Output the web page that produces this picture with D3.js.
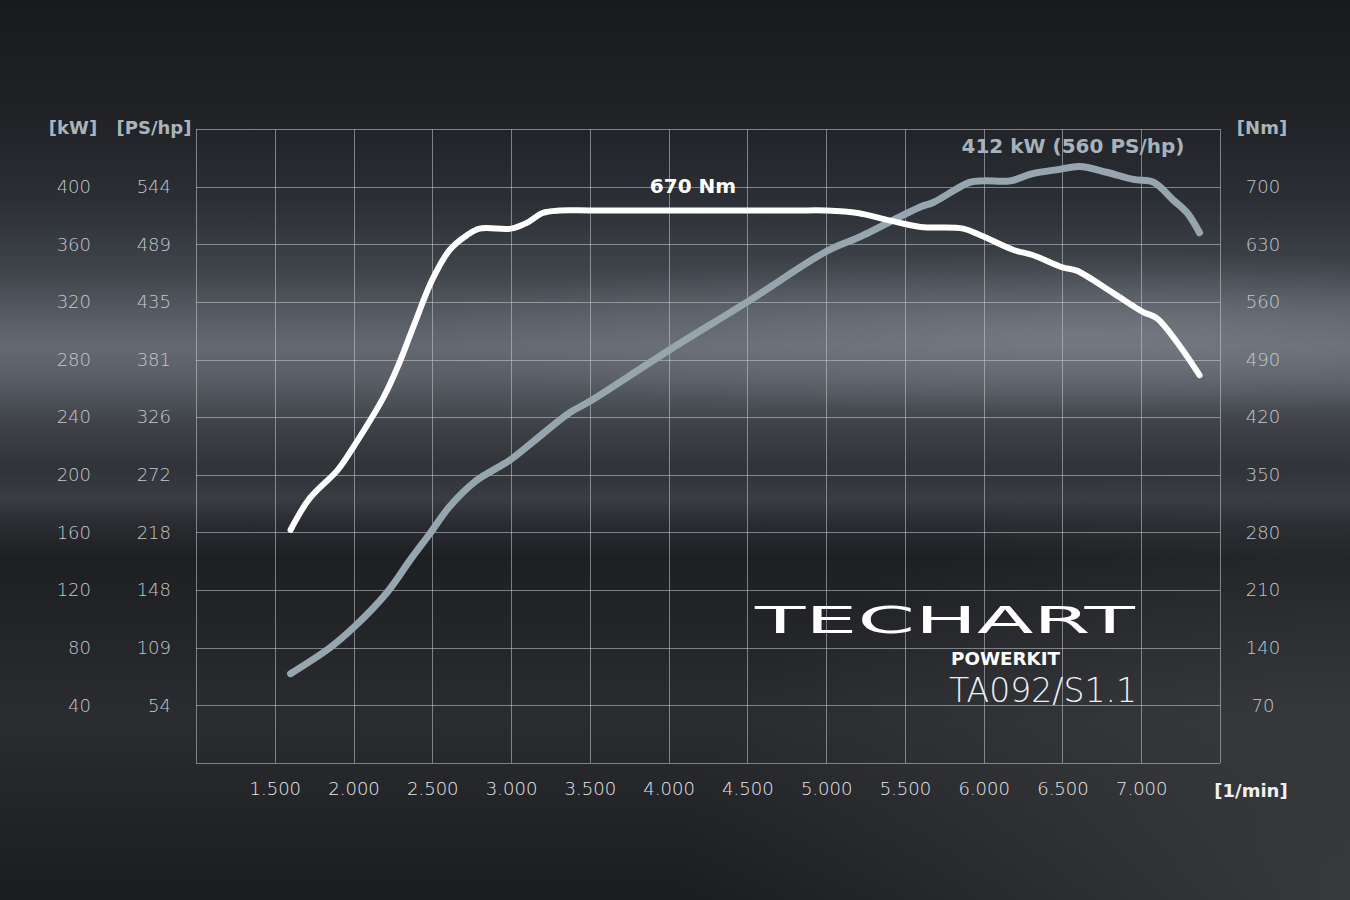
<!DOCTYPE html>
<html><head><meta charset="utf-8">
<script src="https://cdn.jsdelivr.net/npm/d3@7"></script>
<style>html,body{margin:0;padding:0;background:#1c1e22;}svg{display:block;}</style>
</head><body>
<svg id="c" width="1350" height="900"></svg>
<script>
// ---- data ----
const rpmTicks = [1500,2000,2500,3000,3500,4000,4500,5000,5500,6000,6500,7000];
const rpmTickLabels = ["1.500","2.000","2.500","3.000","3.500","4.000","4.500","5.000","5.500","6.000","6.500","7.000"];
const kwTicks = [40,80,120,160,200,240,280,320,360,400];
const psTickLabels = ["54","109","148","218","272","326","381","435","489","544"];
const nmTicks = [70,140,210,280,350,420,490,560,630,700];

const torqueRpm = [1600,1720,1900,2000,2190,2280,2380,2500,2610,2720,2800,3000,3100,3200,3310,3500,4150,4800,5000,5200,5400,5600,5870,5980,6190,6310,6500,6590,6820,7010,7100,7250,7370];
const torqueNm  = [283,321,356,384,444,481,530,587,623,641,649,649,656,668,671,671,671,671,671,668,659,651,649,641,623,617,602,598,571,548,540,505,471];

const powerRpm = [1600,1850,2000,2210,2360,2490,2610,2780,2990,3140,3370,3500,4010,4500,5000,5210,5600,5680,5910,6000,6170,6310,6480,6610,6780,6950,7080,7200,7290,7370];
const powerKw  = [62,80,94,118,141,160,178,196,210,223,243,251,287,320,355,365,386,389,403,404,404,409,412,414,410,405,403,391,382,368];

// ---- layout ----
const L=196,R=1220,T=129,B=763;
const svg=d3.select("#c");
const x=d3.scaleLinear().domain([1000,7500]).range([L,R]);
const yKw=d3.scaleLinear().domain([0,440]).range([B,T]);
const yNm=d3.scaleLinear().domain([0,770]).range([B,T]);

// ---- background ----
const defs=svg.append("defs");
const lg=defs.append("linearGradient").attr("id","bg").attr("x1",0).attr("y1",0).attr("x2",0).attr("y2",1);
[[0,"#191a1e"],[0.12,"#1f2125"],[0.22,"#2b2e34"],[0.30,"#3f444b"],[0.35,"#575c64"],[0.385,"#646971"],[0.42,"#5a5f67"],[0.47,"#3f4349"],[0.52,"#303338"],[0.555,"#393c42"],[0.58,"#2b2d32"],[0.62,"#1d1f23"],[0.70,"#232529"],[0.80,"#2a2c30"],[0.90,"#222428"],[1,"#1b1c1f"]]
 .forEach(s=>lg.append("stop").attr("offset",s[0]).attr("stop-color",s[1]));
svg.append("rect").attr("width",1350).attr("height",900).attr("fill","url(#bg)");
const rg=defs.append("radialGradient").attr("id","glow").attr("cx",0.8).attr("cy",0.37).attr("r",0.5)
  .attr("gradientTransform","translate(0.8,0.37) scale(1,0.18) translate(-0.8,-0.37)");
rg.append("stop").attr("offset",0).attr("stop-color","#8a9098").attr("stop-opacity",0.45);
rg.append("stop").attr("offset",1).attr("stop-color","#8a9098").attr("stop-opacity",0);
svg.append("rect").attr("width",1350).attr("height",900).attr("fill","url(#glow)");
const rg2=defs.append("radialGradient").attr("id","glow2").attr("cx",1).attr("cy",1).attr("r",0.5);
rg2.append("stop").attr("offset",0).attr("stop-color","#4a4c50").attr("stop-opacity",0.6);
rg2.append("stop").attr("offset",1).attr("stop-color","#4a4c50").attr("stop-opacity",0);
svg.append("rect").attr("width",1350).attr("height",900).attr("fill","url(#glow2)");

// ---- grid ----
const grid=svg.append("g").attr("stroke","#c9ccd0").attr("stroke-opacity",0.55).attr("stroke-width",1).attr("shape-rendering","crispEdges");
const vLines=d3.range(1000,7501,500);
grid.selectAll("line.v").data(vLines).join("line").attr("class","v")
  .attr("x1",d=>Math.round(x(d))+0.5).attr("x2",d=>Math.round(x(d))+0.5).attr("y1",T).attr("y2",B);
const hLines=[0].concat(kwTicks,[440]);
grid.selectAll("line.h").data(hLines).join("line").attr("class","h")
  .attr("x1",L).attr("x2",R).attr("y1",d=>Math.round(yKw(d))+0.5).attr("y2",d=>Math.round(yKw(d))+0.5);

// ---- axes (text only) ----
const font="'DejaVu Sans', Roboto, sans-serif";
function styleAxis(g){g.select(".domain").remove();g.selectAll(".tick line").remove();
  g.selectAll("text").attr("font-family",font).attr("font-size",18).attr("font-weight",200).attr("fill","#c3c8cd");}
svg.append("g").attr("transform","translate(91,0)")
  .call(d3.axisLeft(yKw).tickValues(kwTicks).tickSize(0).tickPadding(0)).call(styleAxis);
svg.append("g").attr("transform","translate(171,0)")
  .call(d3.axisLeft(yKw).tickValues(kwTicks).tickFormat((d,i)=>psTickLabels[i]).tickSize(0).tickPadding(0)).call(styleAxis);
svg.append("g").attr("transform","translate(1263,0)")
  .call(d3.axisRight(yNm).tickValues(nmTicks).tickSize(0).tickPadding(0)).call(styleAxis)
  .selectAll("text").attr("text-anchor","middle");
svg.append("g").attr("transform","translate(0,782)")
  .call(d3.axisBottom(x).tickValues(rpmTicks).tickFormat((d,i)=>rpmTickLabels[i]).tickSize(0).tickPadding(0)).call(styleAxis)
  .selectAll("text").attr("fill","#e6e8ea");

// ---- unit labels ----
const lab=(t,xx,yy,anchor,fill,size)=>svg.append("text").attr("x",xx).attr("y",yy).attr("text-anchor",anchor)
  .attr("font-family",font).attr("font-weight","bold").attr("font-size",size||18).attr("fill",fill).text(t);
lab("[kW]",73,134,"middle","#aab4bc");
lab("[PS/hp]",154,134,"middle","#aab4bc");
lab("[Nm]",1262,134,"middle","#aab4bc");
lab("[1/min]",1251,797,"middle","#eef0f2");

// ---- curves ----
const curve=d3.curveCatmullRom.alpha(0.5);
const lineT=d3.line().x(d=>x(d[0])).y(d=>yNm(d[1])).curve(curve);
const lineP=d3.line().x(d=>x(d[0])).y(d=>yKw(d[1])).curve(curve);
svg.append("path").datum(powerRpm.map((r,i)=>[r,powerKw[i]])).attr("d",lineP)
  .attr("fill","none").attr("stroke","#97a6ae").attr("stroke-width",7).attr("stroke-linecap","round").attr("stroke-linejoin","round");
svg.append("path").datum(torqueRpm.map((r,i)=>[r,torqueNm[i]])).attr("d",lineT)
  .attr("fill","none").attr("stroke","#ffffff").attr("stroke-width",6).attr("stroke-linecap","round").attr("stroke-linejoin","round");

// ---- peak labels ----
lab("670 Nm",693,193,"middle","#ffffff",20);
lab("412 kW (560 PS/hp)",1073,153,"middle","#a7b3bb",20);

// ---- logo ----
svg.append("text").attr("x",755).attr("y",633).attr("font-family","'DejaVu Sans', sans-serif").attr("font-weight","normal")
  .attr("font-size",38).attr("textLength",380).attr("lengthAdjust","spacingAndGlyphs").attr("fill","#ffffff").text("TECHART");
svg.append("text").attr("x",951).attr("y",665).attr("font-family",font).attr("font-weight","bold")
  .attr("font-size",18).attr("textLength",109).attr("lengthAdjust","spacingAndGlyphs").attr("fill","#ffffff").text("POWERKIT");
svg.append("text").attr("x",949).attr("y",702).attr("font-family","'DejaVu Sans', sans-serif").attr("font-weight",200)
  .attr("font-size",33).attr("textLength",188).attr("lengthAdjust","spacingAndGlyphs").attr("fill","#eef0f2").text("TA092/S1.1");
</script>
</body></html>
